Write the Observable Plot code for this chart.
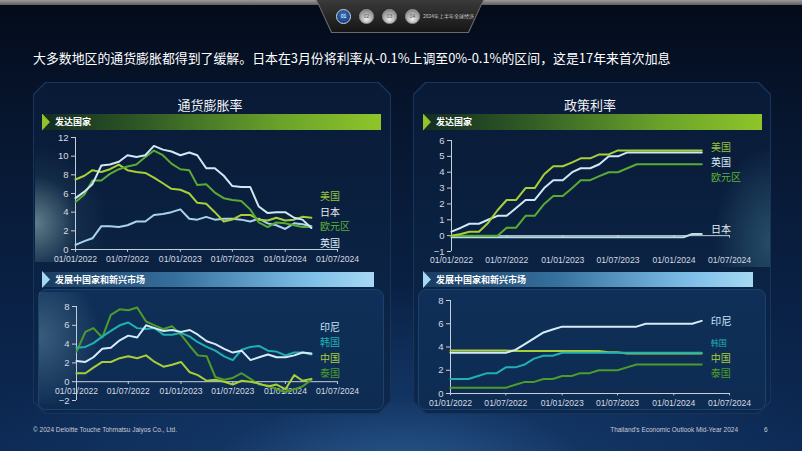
<!DOCTYPE html>
<html><head><meta charset="utf-8">
<script src="https://cdn.jsdelivr.net/npm/d3@7"></script>
<script src="https://cdn.jsdelivr.net/npm/@observablehq/plot@0.6"></script>
<style>
body{margin:0;background:#06122a;}
#slide{position:relative;width:802px;height:451px;overflow:hidden;font-family:"Noto Sans CJK SC","Noto Sans",sans-serif;
 background:
  radial-gradient(ellipse 55% 45% at 50% 108%, rgba(52,104,160,0.85) 0%, rgba(22,60,110,0.6) 45%, rgba(10,32,70,0) 100%),
  linear-gradient(#040b1a 0%, #071731 30%, #0a2247 70%, #0d2a55 100%);}
.abs{position:absolute;}
.chamfer{clip-path:polygon(12px 0,calc(100% - 12px) 0,100% 12px,100% calc(100% - 12px),calc(100% - 12px) 100%,12px 100%,0 calc(100% - 12px),0 12px);}
.ptitle{position:absolute;color:#f2f4f7;font-size:13px;text-align:center;line-height:18px;}
.bar{position:absolute;height:16px;}
.bartext{position:absolute;color:#fff;font-size:9px;font-weight:bold;line-height:16px;}
.tri{position:absolute;width:8px;height:17px;clip-path:polygon(0 0,100% 50%,0 100%);}
.circ{position:absolute;width:13px;height:13px;border-radius:50%;font-size:5px;line-height:13px;text-align:center;font-family:"Liberation Sans",sans-serif;}
svg{overflow:visible;}
</style></head>
<body>
<div id="slide">
 <div class="abs" style="left:0;top:0;width:802px;height:5px;background:linear-gradient(#9a9a9a,#5e5e5e);"></div>
 <div class="abs" style="left:316px;top:0;width:168px;height:33px;background:#6a6a6a;clip-path:polygon(0 0,100% 0,91% 100%,9% 100%);"></div>
 <div class="abs" style="left:317px;top:0;width:166px;height:32px;background:linear-gradient(#3a3a3a,#161616);clip-path:polygon(0 0,100% 0,91% 100%,9% 100%);"></div>
 <div class="circ" style="left:336px;top:9px;background:radial-gradient(circle at 50% 40%,#3a78c8,#0c2c66);color:#fff;border:1px solid #cfd8e0;">01</div>
 <div class="circ" style="left:359px;top:9px;background:radial-gradient(circle at 50% 70%,#f0f0f0,#6a6a6a);color:#555;border:1px solid #999;">02</div>
 <div class="circ" style="left:382px;top:9px;background:radial-gradient(circle at 50% 70%,#f0f0f0,#6a6a6a);color:#555;border:1px solid #999;">03</div>
 <div class="circ" style="left:405px;top:9px;background:radial-gradient(circle at 50% 70%,#f0f0f0,#6a6a6a);color:#555;border:1px solid #999;">04</div>
 <div class="abs" style="left:423px;top:12px;font-size:5px;color:#c8c8c8;white-space:nowrap;">2024年上半年全球经济</div>

 <div class="abs" style="left:33px;top:49px;font-size:12.9px;color:#fff;line-height:18px;white-space:nowrap;">大多数地区的通货膨胀都得到了缓解。日本在3月份将利率从-0.1%上调至0%-0.1%的区间，这是17年来首次加息</div>

 <!-- panels -->
 <div class="abs chamfer" style="left:33px;top:82px;width:358px;height:332px;background:#17355a;"></div>
 <div class="abs chamfer" style="left:34px;top:83px;width:356px;height:330px;background:linear-gradient(#091a36,#0b2344 60%,#0c284c);"></div>
 <div class="abs chamfer" style="left:413px;top:82px;width:358px;height:332px;background:#17355a;"></div>
 <div class="abs chamfer" style="left:414px;top:83px;width:356px;height:330px;background:linear-gradient(#091a36,#0b2344 60%,#0c284c);"></div>
 <div class="abs" style="left:38px;top:289px;width:344px;height:119px;border-radius:8px;background:linear-gradient(#0f2f58,#0e2c52);border:1px solid #1a4270;"></div>
 <div class="abs" style="left:418px;top:289px;width:346px;height:119px;border-radius:8px;background:linear-gradient(#0f2f58,#0e2c52);border:1px solid #1a4270;"></div>
 <!-- glows -->
 <div class="abs" style="left:35px;top:132px;width:120px;height:130px;background:radial-gradient(ellipse 60% 60% at 0% 70%,rgba(140,175,180,0.65),rgba(60,100,120,0.18) 60%,rgba(0,0,0,0) 100%);"></div>
 <div class="abs" style="left:39px;top:292px;width:110px;height:112px;background:radial-gradient(ellipse 55% 65% at 0% 40%,rgba(110,150,170,0.45),rgba(0,0,0,0) 100%);"></div>
 <div class="abs" style="left:690px;top:132px;width:80px;height:135px;background:radial-gradient(ellipse 70% 70% at 100% 80%,rgba(70,130,150,0.45),rgba(0,0,0,0) 100%);"></div>

 <div class="ptitle" style="left:34px;top:96px;width:352px;">通货膨胀率</div>
 <div class="ptitle" style="left:414px;top:96px;width:352px;">政策利率</div>

 <div class="bar" style="left:42px;top:114px;width:339px;background:linear-gradient(90deg,#132c22 0%,#2f5a25 30%,#6aa22a 70%,#8fc52a 100%);"></div>
 <div class="tri" style="left:42px;top:113.5px;background:#8fc52a;"></div>
 <div class="bartext" style="left:55px;top:114px;">发达国家</div>
 <div class="bar" style="left:423px;top:114px;width:339px;background:linear-gradient(90deg,#132c22 0%,#2f5a25 30%,#6aa22a 70%,#8fc52a 100%);"></div>
 <div class="tri" style="left:423px;top:113.5px;background:#8fc52a;"></div>
 <div class="bartext" style="left:436px;top:114px;">发达国家</div>

 <div class="bar" style="left:42px;top:272px;width:332px;height:15px;background:linear-gradient(90deg,#1a3c60 0%,#35709c 40%,#7cbde6 80%,#a6d8f4 100%);"></div>
 <div class="tri" style="left:42px;top:271px;background:#a6d8f4;"></div>
 <div class="bartext" style="left:55px;top:271.5px;">发展中国家和新兴市场</div>
 <div class="bar" style="left:423px;top:272px;width:330px;height:15px;background:linear-gradient(90deg,#1a3c60 0%,#35709c 40%,#7cbde6 80%,#a6d8f4 100%);"></div>
 <div class="tri" style="left:423px;top:271px;background:#a6d8f4;"></div>
 <div class="bartext" style="left:436px;top:271.5px;">发展中国家和新兴市场</div>

 <div id="cA" class="abs" style="left:40px;top:125px;"></div>
 <div id="cB" class="abs" style="left:415px;top:128px;"></div>
 <div id="cC" class="abs" style="left:40px;top:295px;"></div>
 <div id="cD" class="abs" style="left:415px;top:290px;"></div>

 <div class="abs" style="left:33px;top:426px;font-size:6.5px;color:#c8ccd4;font-family:'Liberation Sans',sans-serif;white-space:nowrap;">© 2024 Deloitte Touche Tohmatsu Jaiyos Co., Ltd.</div>
 <div class="abs" style="left:560px;width:178px;text-align:right;top:426px;font-size:6.5px;color:#c8ccd4;font-family:'Liberation Sans',sans-serif;white-space:nowrap;">Thailand's Economic Outlook Mid-Year 2024</div>
 <div class="abs" style="left:764px;top:426px;font-size:6.5px;color:#c8ccd4;font-family:'Liberation Sans',sans-serif;">6</div>
</div>
<script>
// ---- data ----
const months = ["2022-01","2022-02","2022-03","2022-04","2022-05","2022-06","2022-07","2022-08","2022-09","2022-10","2022-11","2022-12",
"2023-01","2023-02","2023-03","2023-04","2023-05","2023-06","2023-07","2023-08","2023-09","2023-10","2023-11","2023-12",
"2024-01","2024-02","2024-03","2024-04"];
const tickLabels = ["2022-01","2022-07","2023-01","2023-07","2024-01","2024-07"];

// inflation, developed
const cpiUS = [7.5,7.9,8.5,8.3,8.6,9.1,8.5,8.3,8.2,7.7,7.1,6.5,6.4,6.0,5.0,4.9,4.0,3.0,3.2,3.7,3.7,3.2,3.1,3.4,3.1,3.2,3.5,3.4];
const cpiJP = [0.5,0.9,1.2,2.5,2.5,2.4,2.6,3.0,3.0,3.7,3.8,4.0,4.3,3.3,3.2,3.5,3.2,3.3,3.3,3.2,3.0,3.3,2.8,2.6,2.2,2.8,2.7,2.5];
const cpiEA = [5.1,5.9,7.4,7.4,8.1,8.6,8.9,9.1,9.9,10.6,10.1,9.2,8.6,8.5,6.9,7.0,6.1,5.5,5.3,5.2,4.3,2.9,2.4,2.9,2.8,2.6,2.4,2.4];
const cpiUK = [5.5,6.2,7.0,9.0,9.1,9.4,10.1,9.9,10.1,11.1,10.7,10.5,10.1,10.4,10.1,8.7,8.7,7.9,6.8,6.7,6.7,4.6,3.9,4.0,4.0,3.4,3.2,2.3];
// inflation, emerging
const cpiID = [2.2,2.1,2.6,3.5,3.6,4.4,4.9,4.7,6.0,5.7,5.4,5.5,5.3,5.5,5.0,4.3,4.0,3.5,3.1,3.3,2.3,2.6,2.9,2.6,2.6,2.8,3.1,3.0];
const cpiKR = [3.6,3.7,4.1,4.8,5.4,6.0,6.3,5.7,5.6,5.7,5.0,5.0,5.2,4.8,4.2,3.7,3.3,2.7,2.3,3.4,3.7,3.8,3.3,3.2,2.8,3.1,3.1,2.9];
const cpiCN = [0.9,0.9,1.5,2.1,2.1,2.5,2.7,2.5,2.8,2.1,1.6,1.8,2.1,1.0,0.7,0.1,0.2,0.0,-0.3,0.1,0.0,-0.2,-0.5,-0.3,-0.8,0.7,0.1,0.3];
const cpiTH = [3.2,5.3,5.7,4.7,7.1,7.7,7.6,7.9,6.4,6.0,5.6,5.9,5.0,3.8,2.8,2.7,0.5,0.2,0.4,0.9,0.3,-0.3,-0.4,-0.8,-1.1,-0.8,-0.5,0.2];
// policy rates, developed
const rateUS = [0,0.1,0.25,0.25,0.8,1.6,2.25,2.25,3.0,3.0,3.875,4.375,4.375,4.625,4.875,4.875,5.125,5.125,5.375,5.375,5.375,5.375,5.375,5.375,5.375,5.375,5.375,5.375];
const rateUK = [0.25,0.5,0.75,0.75,1.0,1.25,1.25,1.75,2.25,2.25,3.0,3.5,3.5,4.0,4.25,4.25,4.5,5.0,5.0,5.25,5.25,5.25,5.25,5.25,5.25,5.25,5.25,5.25];
const rateEA = [0,0,0,0,0,0,0.5,0.5,1.25,1.25,2.0,2.5,2.5,3.0,3.5,3.5,3.75,4.0,4.0,4.25,4.5,4.5,4.5,4.5,4.5,4.5,4.5,4.5];
const rateJP = [-0.1,-0.1,-0.1,-0.1,-0.1,-0.1,-0.1,-0.1,-0.1,-0.1,-0.1,-0.1,-0.1,-0.1,-0.1,-0.1,-0.1,-0.1,-0.1,-0.1,-0.1,-0.1,-0.1,-0.1,-0.1,-0.1,0.1,0.1];
// policy rates, emerging
const rateID = [3.5,3.5,3.5,3.5,3.5,3.5,3.5,3.75,4.25,4.75,5.25,5.5,5.75,5.75,5.75,5.75,5.75,5.75,5.75,5.75,5.75,6.0,6.0,6.0,6.0,6.0,6.0,6.25];
const rateKR = [1.25,1.25,1.25,1.5,1.75,1.75,2.25,2.25,2.5,3.0,3.25,3.25,3.5,3.5,3.5,3.5,3.5,3.5,3.5,3.5,3.5,3.5,3.5,3.5,3.5,3.5,3.5,3.5];
const rateCN = [3.7,3.7,3.7,3.7,3.7,3.7,3.7,3.65,3.65,3.65,3.65,3.65,3.65,3.65,3.65,3.65,3.65,3.55,3.55,3.45,3.45,3.45,3.45,3.45,3.45,3.45,3.45,3.45];
const rateTH = [0.5,0.5,0.5,0.5,0.5,0.5,0.5,0.75,1.0,1.0,1.25,1.25,1.5,1.5,1.75,1.75,2.0,2.0,2.0,2.25,2.5,2.5,2.5,2.5,2.5,2.5,2.5,2.5];

// ---- build ----
const parse = d3.utcParse("%Y-%m");
const dates = months.map(parse);
const ticks = tickLabels.map(parse);
const x0 = ticks[0], x1 = ticks[ticks.length - 1];
const fmt = d3.utcFormat("%d/%m/%Y");
const AX = "#c5cfd9", TX = "#d4dae2";
const CJK = "Noto Sans CJK SC";

function rows(vals) { return vals.map((v, i) => ({date: dates[i], value: v})); }

function chart(c) {
  const marks = [];
  marks.push(Plot.ruleX([0], {x: () => x0, y1: () => c.y[0], y2: () => c.y[1], stroke: AX, strokeWidth: 1}));
  marks.push(Plot.ruleY([0], {x1: () => x0, x2: () => x1, y: () => 0, stroke: AX, strokeWidth: 1}));
  marks.push(Plot.axisY({ticks: c.yTicks, tickFormat: d3.format("d"), tickSize: 4, tickPadding: 3, label: null, stroke: AX, fill: TX, fontSize: 9.5}));
  marks.push(Plot.ruleX(ticks, {x: d => d, y1: () => 0, y2: () => c.tickLen, stroke: AX}));
  if (c.zeroLabels) {
    marks.push(Plot.text(ticks, {x: d => d, y: () => 0, text: d => fmt(d), dy: 10, fill: TX, fontSize: 8.6}));
  } else {
    marks.push(Plot.axisX({ticks: ticks, tickFormat: fmt, tickSize: 0, tickPadding: c.xPad, label: null, fill: TX, fontSize: 8.6}));
  }
  for (const s of c.series) {
    marks.push(Plot.line(rows(s.values), {x: "date", y: "value", stroke: s.color, strokeWidth: 2, strokeLinejoin: "round", curve: "linear"}));
  }
  for (const l of c.labels) {
    marks.push(Plot.text([l], {x: () => c.labelX, y: "y", text: "name", fill: l.color, textAnchor: "start",
      fontSize: l.size || 10, fontFamily: CJK}));
  }
  return Plot.plot({
    width: c.w, height: c.h, marginLeft: c.ml, marginRight: c.mr, marginTop: c.mt, marginBottom: c.mb,
    x: {type: "utc", domain: [x0, x1], axis: null},
    y: {domain: c.y, axis: null},
    style: {background: "transparent", color: TX, fontFamily: "Liberation Sans", overflow: "visible"},
    marks
  });
}

const cUS = "#a9cf38", cEA = "#5aab35", cUK = "#cfe8f7", cJP = "#aad3ea";
const cID = "#d4ecfa", cKR = "#20b0b2", cCN = "#a9cf38", cTH = "#4d9c2b";

document.getElementById("cA").append(chart({
  w: 350, h: 145, ml: 35, mr: 53, mt: 12, mb: 21, y: [0, 12], yTicks: [0,2,4,6,8,10,12], tickLen: -0.3, xPad: 6,
  labelX: parse("2024-05"),
  series: [{values: cpiJP, color: cJP}, {values: cpiUS, color: cUS}, {values: cpiEA, color: cEA}, {values: cpiUK, color: cUK}],
  labels: [{name: "美国", y: 5.6, color: "#95c23a"}, {name: "日本", y: 3.9, color: "#e8eef4"},
           {name: "欧元区", y: 2.4, color: "#5cb236"}, {name: "英国", y: 0.65, color: "#dceefa"}]
}));
document.getElementById("cB").append(chart({
  w: 370, h: 142, ml: 36, mr: 56, mt: 12, mb: 19, y: [-1, 6], yTicks: [-1,0,1,2,3,4,5,6], tickLen: -0.15, xPad: 5,
  labelX: parse("2024-05"),
  series: [{values: rateJP, color: "#b9dfe6"}, {values: rateEA, color: cEA}, {values: rateUK, color: cUK}, {values: rateUS, color: cUS}],
  labels: [{name: "美国", y: 5.55, color: "#95c23a"}, {name: "英国", y: 4.6, color: "#dceefa"},
           {name: "欧元区", y: 3.66, color: "#5cb236"}, {name: "日本", y: 0.38, color: "#e8eef4"}]
}));
document.getElementById("cC").append(chart({
  w: 350, h: 115, ml: 36, mr: 53, mt: 11, mb: 10, y: [-2, 8], yTicks: [-2,0,2,4,6,8], tickLen: -0.3, zeroLabels: true,
  labelX: parse("2024-05"),
  series: [{values: cpiTH, color: cTH}, {values: cpiCN, color: cCN}, {values: cpiKR, color: cKR}, {values: cpiID, color: cID}],
  labels: [{name: "印尼", y: 5.75, color: "#c9e6f8"}, {name: "韩国", y: 4.15, color: "#1fb0b5"},
           {name: "中国", y: 2.45, color: "#a9cf38"}, {name: "泰国", y: 0.85, color: "#4d9c2b"}]
}));
document.getElementById("cD").append(chart({
  w: 370, h: 120, ml: 35, mr: 56, mt: 10, mb: 17, y: [0, 8], yTicks: [0,2,4,6,8], tickLen: -0.2, xPad: 6,
  labelX: parse("2024-05"),
  series: [{values: rateTH, color: cTH}, {values: rateCN, color: cCN}, {values: rateKR, color: cKR}, {values: rateID, color: cID}],
  labels: [{name: "印尼", y: 6.2, color: "#c9e6f8", size: 10.5}, {name: "韩国", y: 4.3, color: "#1fb0b5", size: 8},
           {name: "中国", y: 3.0, color: "#a9cf38"}, {name: "泰国", y: 1.72, color: "#4d9c2b"}]
}));
</script>
</body></html>
